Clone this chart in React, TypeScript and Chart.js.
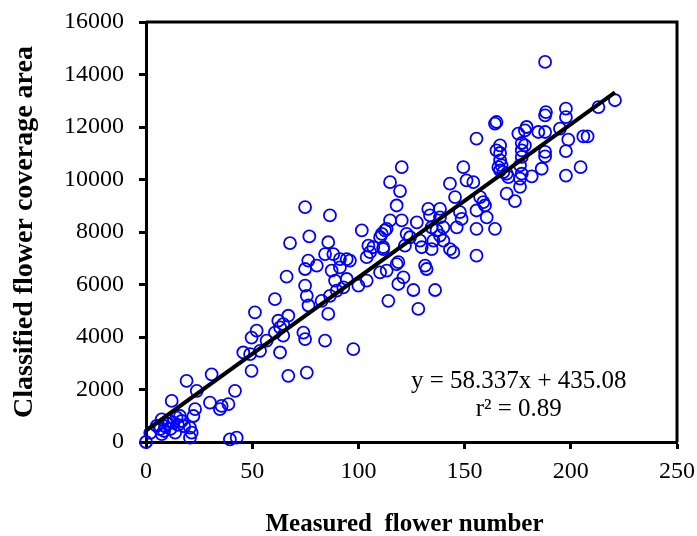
import React, { useEffect, useRef } from "react";
import { Chart, registerables } from "chart.js";

Chart.register(...registerables);

// Measured flower number (x) of each sample
const flowerNumbers = [
  0, 2, 5, 6.6, 7.4, 7.4, 9, 10.5, 11, 12.1, 12.9, 13.7, 14.4, 15, 16, 16.8, 18, 19.1, 20.7, 21.5, 20.7, 22.3, 23.1, 23.9, 8.5, 11.5,
  30.1, 30.9, 34.8, 35.6, 38.8, 41.9, 39.5, 42.7, 45.8, 49, 49.7, 49.7,
  51.3, 52.1, 53.7, 56.8, 60.7, 60.7, 62.3, 63.1, 64.6, 64.6, 67, 67, 66.2, 67.8, 63.1, 74.1, 74.9, 75.7, 76.5, 74.9, 76.9, 76.4, 74.9, 74.9, 75.7,
  80.4, 82.7, 84.3, 84.3, 85.8, 85.8, 86.6, 86.6, 87.4, 88.2, 89, 89.8, 91.3, 91.3, 92.9, 94.5, 94.5, 96, 97.6, 100,
  101.6, 103.9, 103.9, 104.7, 105.5, 107, 110.2, 110.2, 111, 111.7, 111.7, 112.5, 113.3, 113.3, 114.1, 114.9, 114.9, 118, 118, 118.8, 118.8, 119.6, 120.4, 120.4, 121.2, 121.9, 122.7, 124.3,
  125.9, 127.5, 128.2, 129, 129.8, 131.4, 132.1, 132.9, 133.7, 134.5, 134.5, 135.3, 136.1, 136.8, 138.4, 138.4, 138.4, 140, 140, 143.1, 143.1, 144.7, 145.5, 146.3, 147.8, 148.6, 149.4,
  150.9, 154.1, 155.6, 155.6, 155.6, 155.6, 157.3, 158.8, 159.6, 160.4, 164.3, 165, 165, 166.7, 166.7, 167.4, 166.7, 165.9, 168.2, 169.8, 170.6, 169.8, 173.7, 164.3, 166.7,
  175.3, 176.9, 176.9, 176.9, 176.1, 176.9, 176.1, 176.1, 178.4, 178.4, 179.2, 181.6, 184.7, 186.3, 187.9, 187.9, 187.9, 187.9, 188.3, 187.9, 194.9, 197.7, 197.7, 197.7, 197.7, 198.8, 204.6, 205.9, 207.9, 213, 220.8,
];

// Classified flower coverage area (y) of each sample
const coverageAreas = [
  0, 350, 610, 490, 865, 300, 600, 700, 800, 1565, 740, 355, 930, 650, 990, 800, 600, 2330, 550, 355, 165, 990, 1250, 1950, 420, 500,
  1500, 2580, 1250, 1375, 1440, 1950, 100, 165, 3410, 3350, 2710, 3980,
  4940, 4240, 3475, 3860, 4170, 5440, 4620, 3410, 4490, 4050, 4810, 2520, 6300, 7580, 4370, 4170, 3920, 2645, 5200, 8950, 7830, 6910, 6590, 5960, 5570,
  6720, 5380, 7160, 3860, 7610, 4880, 8630, 5570, 6530, 7160, 6150, 5770, 6970, 6650, 5890, 6210, 6970, 6910, 3540, 5960,
  8060, 6150, 7040, 7480, 7230, 7420, 6460, 7800, 7930, 7420, 7350, 8060, 6530, 8120, 5380, 8440, 9900, 9010, 6780, 6020, 6850, 9560, 8440, 10470, 6270, 7480, 7930, 7800,
  5790, 8370, 5070, 7670, 7420, 6720, 6590, 8880, 8630, 8180, 7350, 7670, 5790, 8060, 8880, 8560, 7860, 8180, 7670, 9840, 7350, 7230, 9330, 8180, 8760, 8500, 10470,
  9970, 9900, 11560, 8820, 8120, 7100, 9330, 9140, 9010, 8560, 12130, 12190, 11110, 11300, 11010, 10540, 10350, 10470, 10280, 10220, 10090, 9460, 9180, 8120, 10730,
  11750, 11390, 11110, 10860, 10540, 10220, 10030, 9720, 11870, 11300, 12000, 10120, 11810, 10410, 11810, 11050, 10880, 12440, 12570, 14480, 11940, 12700, 12380, 11080, 10150, 11520, 10470, 11640, 11640, 12760, 13020,
];

// Fitted regression reported on the chart
const slope = 58.337;
const intercept = 435.08;
const rSquared = 0.89;

const xAxisRange = [0, 250];
const xTickStep = 50;
const yAxisRange = [0, 16000];
const yTickStep = 2000;

const xTitle = "Measured  flower number";
const yTitle = "Classified flower coverage area";
const equationLabel = `y = ${slope}x + ${intercept}`;
const rSquaredLabel = `r² = ${rSquared}`;

// anchor of the equation text, in data units
const labelAnchorX = 175.5;
const labelAnchorY1 = 2300;
const labelAnchorY2 = 1250;

const FONT = "'Liberation Serif', 'Times New Roman', serif";

export default function App() {
  const canvasRef = useRef<HTMLCanvasElement | null>(null);

  useEffect(() => {
    const canvas = canvasRef.current;
    if (!canvas) return;

    const points = flowerNumbers.map((x, i) => ({ x, y: coverageAreas[i] }));
    const xMin = Math.min(...flowerNumbers);
    const xMax = Math.max(...flowerNumbers);
    const fitLine = [xMin, xMax].map((x) => ({ x, y: slope * x + intercept }));

    const framePlugin = {
      id: "frameAndLabels",
      afterDraw(chart: any) {
        const { ctx, chartArea, scales } = chart;
        ctx.save();
        ctx.strokeStyle = "#000";
        ctx.lineWidth = 3;
        ctx.beginPath();
        ctx.moveTo(chartArea.left, chartArea.top);
        ctx.lineTo(chartArea.right, chartArea.top);
        ctx.lineTo(chartArea.right, chartArea.bottom);
        ctx.stroke();

        ctx.fillStyle = "#000";
        ctx.font = `25px ${FONT}`;
        ctx.textAlign = "center";
        ctx.textBaseline = "middle";
        const cx = scales.x.getPixelForValue(labelAnchorX);
        ctx.fillText(equationLabel, cx, scales.y.getPixelForValue(labelAnchorY1));
        ctx.fillText(rSquaredLabel, cx, scales.y.getPixelForValue(labelAnchorY2));

        // x axis title
        ctx.font = `bold 25px ${FONT}`;
        const tx = (chartArea.left + chartArea.right) / 2 - 7;
        ctx.fillText(xTitle, tx, chart.height - 11);
        ctx.restore();
      },
    };

    const chart = new Chart(canvas, {
      type: "scatter",
      data: {
        datasets: [
          {
            type: "line",
            data: fitLine,
            borderColor: "#000",
            borderWidth: 4,
            pointRadius: 0,
            fill: false,
          } as any,
          {
            type: "scatter",
            data: points,
            borderColor: "#0000FF",
            backgroundColor: "rgba(0,0,0,0)",
            borderWidth: 1.8,
            pointRadius: 6,
            pointHoverRadius: 6,
            clip: false,
          } as any,
        ],
      },
      plugins: [framePlugin],
      options: {
        animation: false,
        responsive: false,
        events: [],
        layout: { padding: { top: 22, right: 20, bottom: 0, left: 0 } },
        plugins: {
          legend: { display: false },
          tooltip: { enabled: false },
        },
        scales: {
          x: {
            type: "linear",
            min: xAxisRange[0],
            max: xAxisRange[1],
            afterFit: (scale: any) => {
              scale.height = 94;
              scale.paddingLeft = 0;
              scale.paddingRight = 0;
            },
            ticks: {
              stepSize: xTickStep,
              color: "#000",
              padding: 8,
              font: { family: FONT, size: 24 },
              callback: (v: any) => String(v),
            },
            grid: {
              drawOnChartArea: false,
              drawTicks: true,
              tickLength: 7,
              tickColor: "#000",
              tickWidth: 3,
              color: "#000",
            },
            border: { display: true, color: "#000", width: 3 },
            title: { display: false },
          },
          y: {
            type: "linear",
            min: yAxisRange[0],
            max: yAxisRange[1],
            afterFit: (scale: any) => {
              scale.width = 146;
              scale.paddingTop = 0;
              scale.paddingBottom = 0;
            },
            ticks: {
              stepSize: yTickStep,
              color: "#000",
              padding: 15,
              font: { family: FONT, size: 24 },
              callback: (v: any) => String(v),
            },
            grid: {
              drawOnChartArea: false,
              drawTicks: true,
              tickLength: 7,
              tickColor: "#000",
              tickWidth: 3,
              color: "#000",
            },
            border: { display: true, color: "#000", width: 3 },
            title: {
              display: true,
              text: yTitle,
              color: "#000",
              padding: { top: 8, bottom: 0 },
              font: { family: FONT, size: 28, weight: "bold", lineHeight: 1.2 },
            },
          },
        },
      },
    });

    return () => chart.destroy();
  }, []);

  return (
    <div style={{ position: "fixed", left: 0, top: 0, width: 697, height: 536, background: "#fff" }}>
      <canvas ref={canvasRef} width={697} height={536} />
    </div>
  );
}
